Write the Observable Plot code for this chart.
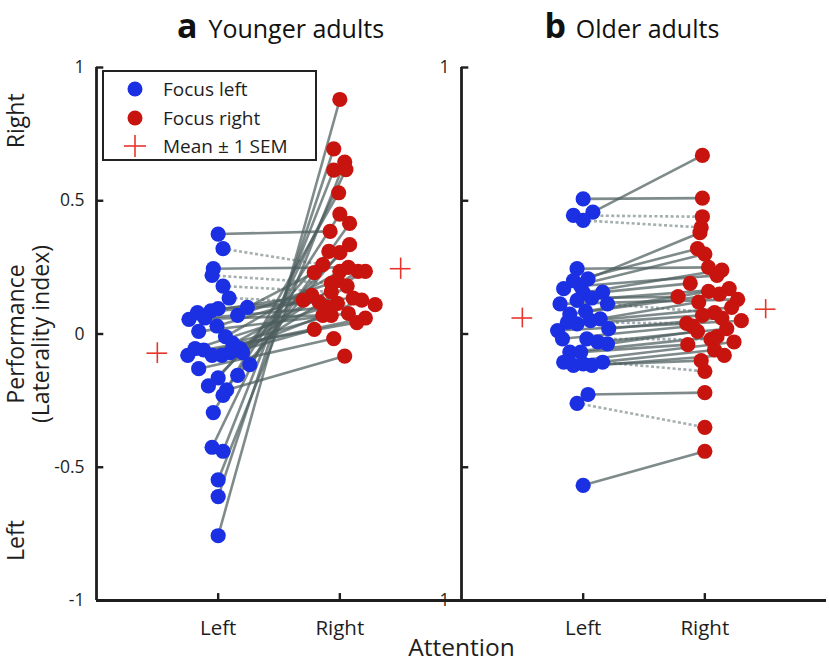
<!DOCTYPE html>
<html>
<head>
<meta charset="utf-8">
<script src="https://cdn.jsdelivr.net/npm/d3@7"></script>
<script src="https://cdn.jsdelivr.net/npm/@observablehq/plot@0.6"></script>
<style>
  body { margin: 0; background: #fff; }
  #wrap { position: relative; width: 829px; height: 663px; font-family: "Open Sans", sans-serif; color: #222; }
  #legend { position: absolute; left: 102px; top: 70px; width: 211px; height: 87px; border: 2.6px solid #222; background: #fff; }
  .lg-row { position: absolute; left: 0; height: 28px; display: flex; align-items: center; font-size: 19px; color: #1e1e1e; }
  .lg-row svg { margin-left: 23px; margin-right: 20px; }
</style>
</head>
<body>
<div id="wrap"></div>
<script>
// ---------- data ----------
const groups = ["Younger adults", "Older adults"];
const panelLetters = ["a", "b"];
const conditions = ["Left", "Right"];
const legendLabels = ["Focus left", "Focus right", "Mean \u00b1 1 SEM"];
const yTickValues = [1, 0.5, 0, -0.5, -1];
const yTickValuesOlder = [1, -1];
const axisTitle = "Attention";
const yTitle = ["Performance", "(Laterality index)"];
const yEnds = ["Right", "Left"];

// Younger adults: one entry per participant, paired by index
const youngLeft = [0.375, 0.32, 0.245, 0.22, 0.18, 0.135, 0.10, 0.07, 0.095, 0.087, 0.08, 0.055, 0.06, 0.03, 0.01, -0.01, -0.035, -0.055, -0.08, -0.055, -0.06, -0.08, -0.08, -0.07, -0.07, -0.115, -0.13, -0.165, -0.155, -0.195, -0.21, -0.23, -0.295, -0.425, -0.44, -0.547, -0.61, -0.757];
const youngLeftJitter = [0.00, 0.04, -0.04, -0.05, 0.04, 0.09, 0.24, 0.16, 0.00, -0.06, -0.17, -0.24, -0.11, -0.01, -0.16, 0.06, 0.12, 0.18, -0.25, -0.19, -0.12, -0.05, 0.03, 0.10, 0.20, 0.26, -0.16, 0.00, 0.16, -0.08, 0.07, 0.04, -0.04, -0.05, 0.04, 0.00, 0.00, 0.00];
const youngRight = [0.385, 0.26, 0.25, 0.19, 0.158, 0.11, 0.23, 0.20, 0.135, 0.145, 0.12, 0.07, 0.10, 0.127, 0.077, 0.235, 0.07, 0.235, 0.06, 0.115, 0.043, 0.235, 0.017, 0.127, 0.18, 0.415, -0.017, 0.31, 0.305, 0.335, -0.083, 0.45, 0.53, 0.617, 0.615, 0.645, 0.695, 0.88];
const youngRightJitter = [-0.08, -0.14, 0.07, -0.07, -0.07, 0.29, -0.21, -0.02, 0.11, -0.23, -0.17, -0.14, -0.10, -0.30, 0.07, 0.00, -0.07, 0.15, 0.21, -0.02, 0.14, 0.21, -0.21, 0.18, 0.06, 0.08, -0.05, -0.09, 0.00, 0.08, 0.04, 0.00, -0.01, 0.05, -0.05, 0.04, -0.05, 0.00];

// Older adults
const olderLeft = [0.507, 0.457, 0.445, 0.426, 0.245, 0.207, 0.20, 0.18, 0.17, 0.157, 0.155, 0.135, 0.126, 0.113, 0.113, 0.085, 0.075, 0.057, 0.05, 0.044, 0.038, 0.02, 0.013, -0.018, -0.018, -0.03, -0.037, -0.068, -0.068, -0.106, -0.106, -0.112, -0.118, -0.118, -0.227, -0.26, -0.568];
const olderLeftJitter = [0.00, 0.08, -0.08, 0.00, -0.05, 0.04, -0.08, -0.02, -0.16, 0.16, 0.00, 0.07, -0.05, -0.19, 0.20, 0.02, -0.11, 0.14, 0.06, -0.13, -0.05, 0.21, -0.21, -0.17, 0.03, 0.12, 0.20, -0.11, -0.02, -0.16, 0.16, 0.00, -0.08, 0.07, 0.04, -0.05, 0.00];
const olderRight = [0.51, 0.67, 0.44, 0.40, 0.25, 0.38, 0.32, 0.22, 0.30, 0.19, 0.24, 0.14, 0.17, 0.13, 0.08, 0.16, 0.15, 0.12, 0.10, 0.04, 0.07, 0.06, 0.05, 0.03, -0.02, 0.02, 0.01, -0.01, -0.04, -0.03, -0.14, -0.06, -0.10, -0.08, -0.22, -0.35, -0.44];
const olderRightJitter = [-0.02, -0.02, -0.02, -0.03, 0.03, -0.04, -0.06, 0.10, 0.00, -0.12, 0.14, -0.22, 0.20, 0.27, 0.08, 0.03, 0.12, -0.05, 0.22, -0.15, -0.02, 0.14, 0.30, -0.10, 0.05, 0.18, -0.06, 0.10, -0.14, 0.24, 0.00, 0.08, -0.03, 0.16, 0.00, 0.00, 0.00];

// Group means and SEM (Younger, Older)
const meanLeft = [-0.072, 0.060];
const meanRight = [0.245, 0.093];
const semLeft = [0.039, 0.037];
const semRight = [0.040, 0.036];

// ---------- tables ----------
const condPos = {Left: 1, Right: 2};
const meanPos = {Left: 0.5, Right: 2.5};
function pairs(group, L, LJ, R, RJ) {
  return L.map((v, i) => ({group, left: v, lj: LJ[i], right: R[i], rj: RJ[i]}));
}
const subjects = [
  ...pairs(groups[0], youngLeft, youngLeftJitter, youngRight, youngRightJitter),
  ...pairs(groups[1], olderLeft, olderLeftJitter, olderRight, olderRightJitter)
];
const summary = groups.flatMap((g, i) => [
  {group: g, cond: "Left", mean: meanLeft[i], sem: semLeft[i]},
  {group: g, cond: "Right", mean: meanRight[i], sem: semRight[i]}
]);
const titles = groups.map((g, i) => ({group: g, letter: panelLetters[i], name: g}));
const titleLetterX = {"Younger adults": 0.83, "Older adults": 0.86};
const titleNameX = {"Younger adults": 0.92, "Older adults": 0.94};
const yLabels = [
  ...yTickValues.map(v => ({group: groups[0], v})),
  ...yTickValuesOlder.map(v => ({group: groups[1], v}))
];

const BLUE = "#1b30e3";
const RED = "#c8140f";
const CROSS = "#e8352c";
const AX = "#1e1e1e";

const chart = Plot.plot({
  width: 829,
  height: 663,
  marginLeft: 96,
  marginRight: 3,
  marginTop: 67,
  marginBottom: 63,
  fx: {domain: groups, padding: 0, axis: null},
  x: {domain: [0, 3], axis: null},
  y: {domain: [-1, 1], axis: null},
  style: {fontFamily: "'Open Sans', sans-serif", fontSize: "17px", color: AX, background: "white", overflow: "visible"},
  marks: [
    // paired lines
    Plot.link(subjects, {
      filter: d => d.right < d.left,
      fx: "group",
      x1: d => condPos.Left + d.lj, y1: "left",
      x2: d => condPos.Right + d.rj, y2: "right",
      stroke: "#9fabab", strokeWidth: 2.6, strokeDasharray: "3,2.4", strokeOpacity: 0.95
    }),
    Plot.link(subjects, {
      filter: d => d.right >= d.left,
      fx: "group",
      x1: d => condPos.Left + d.lj, y1: "left",
      x2: d => condPos.Right + d.rj, y2: "right",
      stroke: "#4d5e5e", strokeWidth: 2.6, strokeOpacity: 0.72
    }),
    // dots
    Plot.dot(subjects, {fx: "group", x: d => condPos.Left + d.lj, y: "left", r: 7.6, fill: BLUE}),
    Plot.dot(subjects, {fx: "group", x: d => condPos.Right + d.rj, y: "right", r: 7.6, fill: RED}),
    // mean +- SEM crosses
    Plot.ruleY(summary, {fx: "group", y: "mean", x1: d => meanPos[d.cond] - 0.085, x2: d => meanPos[d.cond] + 0.085, stroke: CROSS, strokeWidth: 1.6}),
    Plot.ruleX(summary, {fx: "group", x: d => meanPos[d.cond], y1: d => d.mean - d.sem, y2: d => d.mean + d.sem, stroke: CROSS, strokeWidth: 1.6}),
    // axes
    Plot.ruleX([0], {y1: -1, y2: 1, stroke: AX, strokeWidth: 2.8}),
    Plot.ruleY([-1], {x1: 0, x2: 3, stroke: AX, strokeWidth: 2.8}),
    Plot.ruleY(yTickValues, {x1: 0, x2: 0.06, stroke: AX, strokeWidth: 2.4}),
    Plot.ruleX(conditions.map(c => condPos[c]), {y1: -1, y2: -0.974, stroke: AX, strokeWidth: 2.4}),
    // tick labels
    Plot.text(yLabels, {fx: "group", x: 0, y: "v", text: d => String(d.v), dx: -12, textAnchor: "end", fontSize: 17.5, fill: AX}),
    Plot.text(conditions, {x: d => condPos[d], y: -1, text: d => d, dy: 28, fontSize: 20.5, fill: AX}),
    Plot.text([axisTitle], {fx: () => groups[0], x: 3, y: -1, text: d => d, dy: 48, fontSize: 24.5, fill: AX}),
    // y-axis titles
    Plot.text([yTitle[0]], {fx: () => groups[0], x: 0, y: 0, text: d => d, rotate: -90, dx: -80, fontSize: 23, fill: AX}),
    Plot.text([yTitle[1]], {fx: () => groups[0], x: 0, y: 0, text: d => d, rotate: -90, dx: -55, fontSize: 23, fill: AX}),
    Plot.text([yEnds[0]], {fx: () => groups[0], x: 0, y: 0.8, text: d => d, rotate: -90, dx: -80, fontSize: 23, fill: AX}),
    Plot.text([yEnds[1]], {fx: () => groups[0], x: 0, y: -0.775, text: d => d, rotate: -90, dx: -80, fontSize: 23, fill: AX}),
    // panel titles
    Plot.text(titles, {fx: "group", x: d => titleLetterX[d.group], y: 1, text: "letter", textAnchor: "end", dy: -40, fontSize: 34, fontWeight: "bold", fill: "#111"}),
    Plot.text(titles, {fx: "group", x: d => titleNameX[d.group], y: 1, text: "name", textAnchor: "start", dy: -38, fontSize: 25, fill: "#111"})
  ]
});

const wrap = document.getElementById("wrap");
wrap.appendChild(chart);

// legend (inside panel a, top-left)
const legend = document.createElement("div");
legend.id = "legend";
const symbols = [
  `<svg width="16" height="16"><circle cx="8" cy="8" r="7.5" fill="${BLUE}"/></svg>`,
  `<svg width="16" height="16"><circle cx="8" cy="8" r="7.5" fill="${RED}"/></svg>`,
  `<svg width="22" height="22" style="margin-left:20px;margin-right:17px"><line x1="0" y1="11" x2="22" y2="11" stroke="${CROSS}" stroke-width="1.6"/><line x1="11" y1="0" x2="11" y2="22" stroke="${CROSS}" stroke-width="1.6"/></svg>`
];
legendLabels.forEach((lab, i) => {
  const row = document.createElement("div");
  row.className = "lg-row";
  row.style.top = (3 + i * 28.5) + "px";
  row.innerHTML = symbols[i] + `<span>${lab}</span>`;
  legend.appendChild(row);
});
wrap.appendChild(legend);
</script>
</body>
</html>
